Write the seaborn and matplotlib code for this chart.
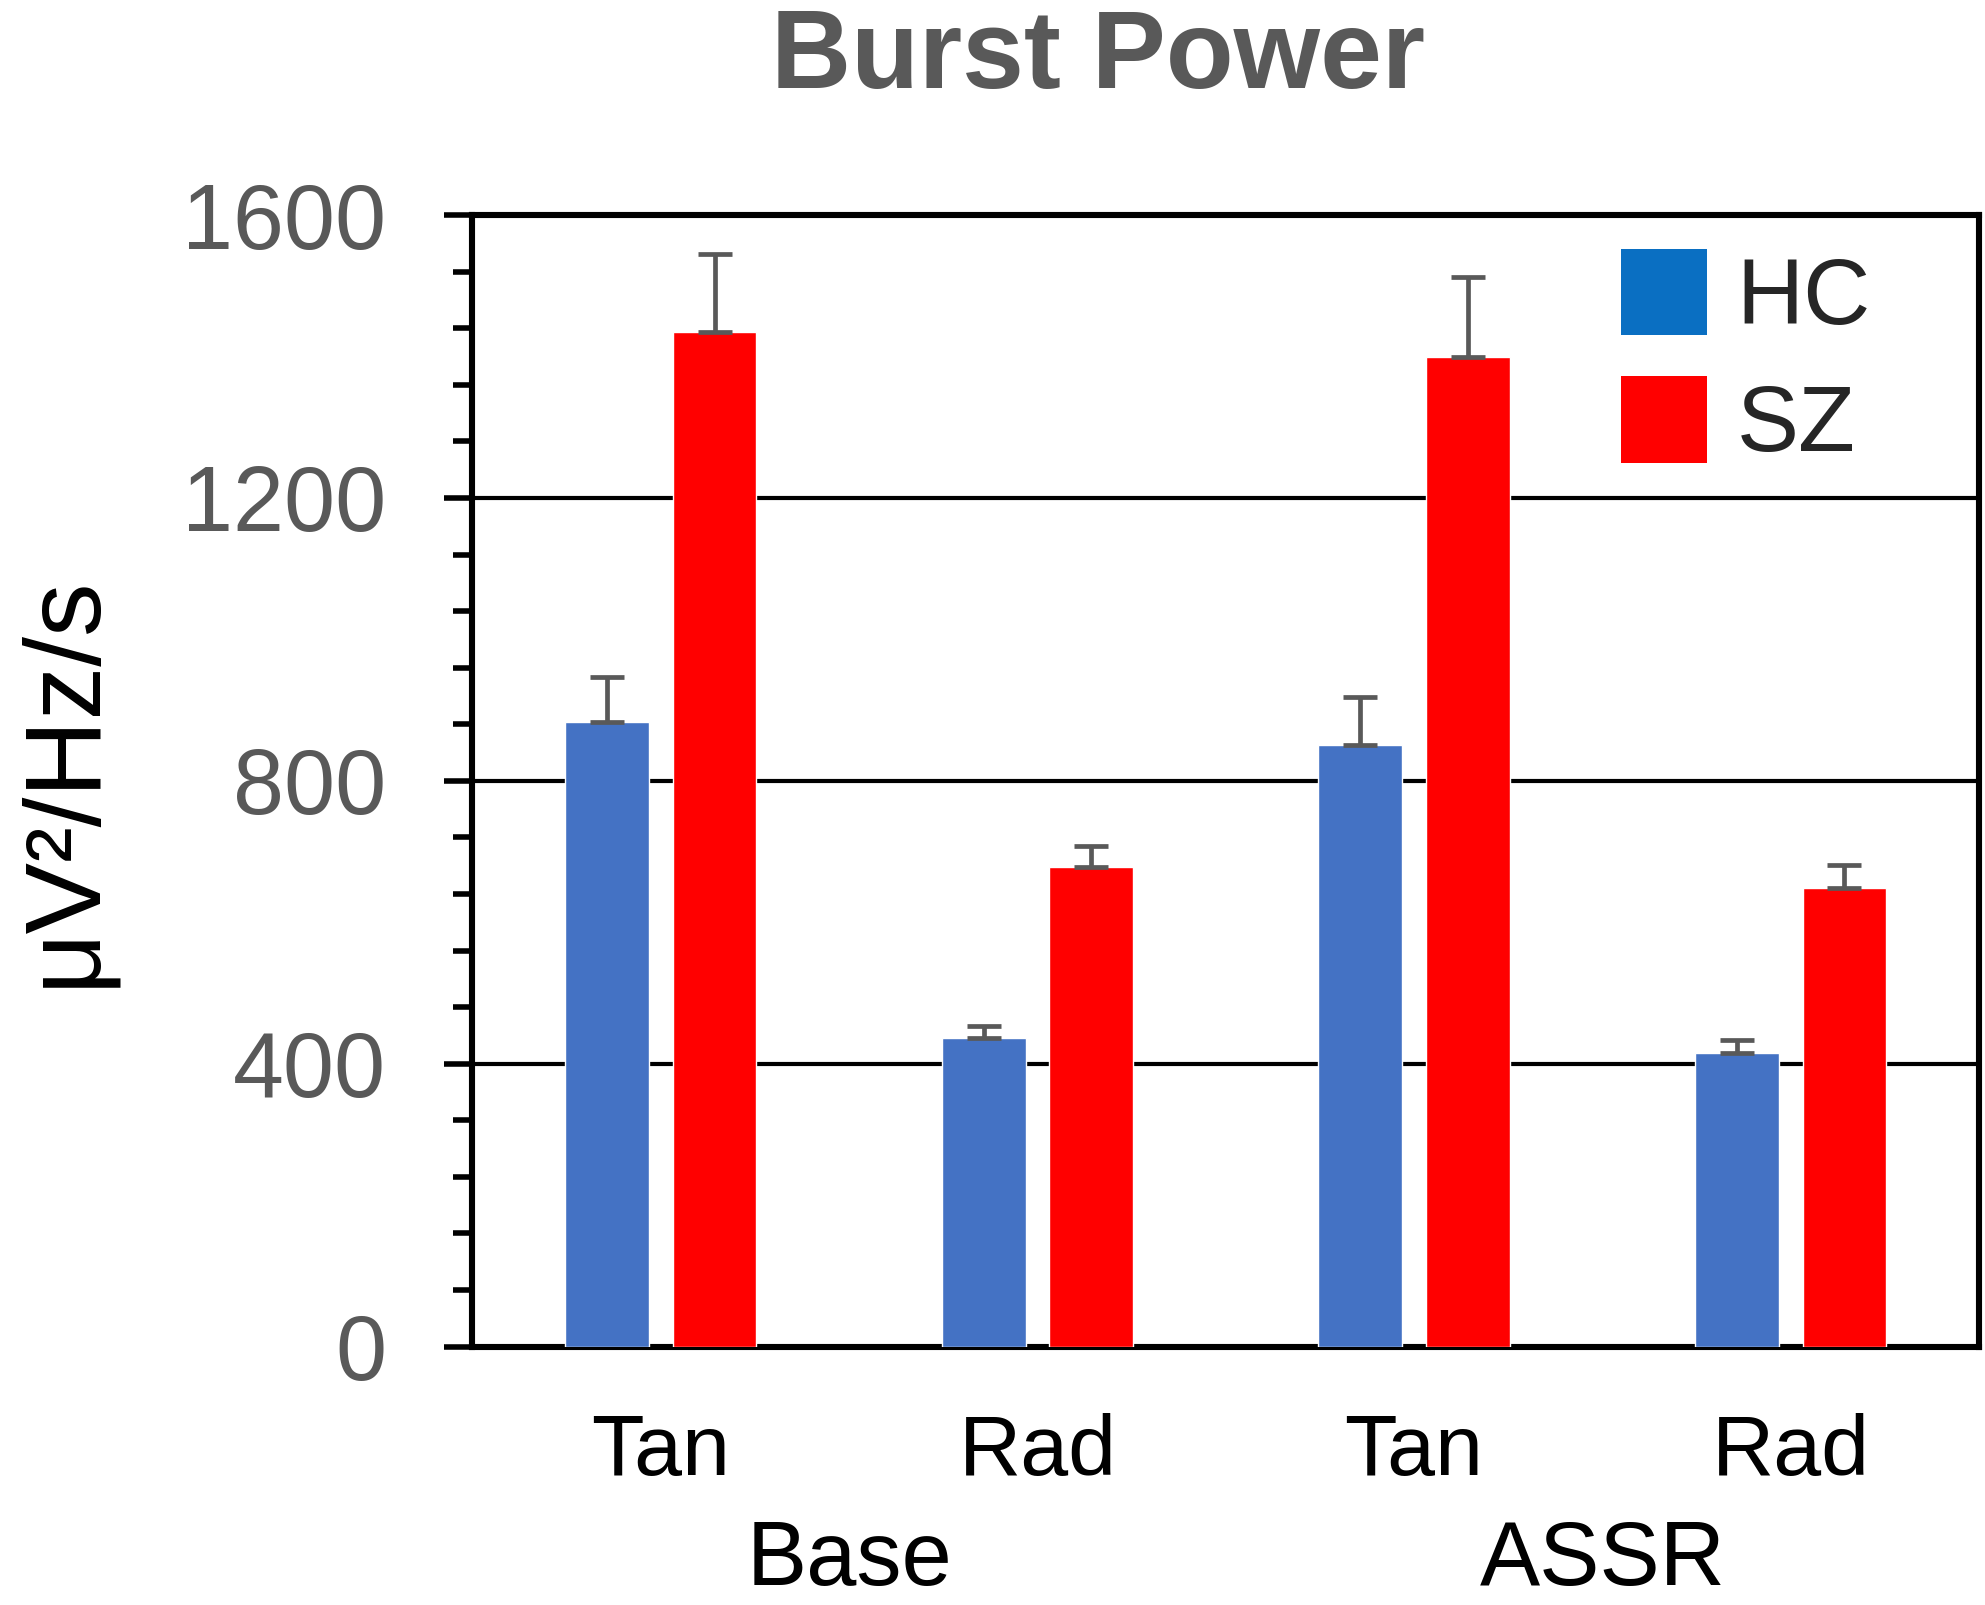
import numpy as np
import pandas as pd
import matplotlib
matplotlib.use("Agg")
import matplotlib.pyplot as plt
from matplotlib.patches import Patch
from matplotlib.ticker import MultipleLocator
import seaborn as sns

# ---- data ----
conditions = ["Base", "Base", "ASSR", "ASSR"]
orientations = ["Tan", "Rad", "Tan", "Rad"]
groups = ["HC", "SZ"]
hc_values = [883, 436, 851, 415]
sz_values = [1435, 678, 1400, 649]
hc_err = [64, 18, 68, 19]
sz_err = [110, 30, 112, 32]
group_labels = ["Base", "ASSR"]
y_ticks = [0, 400, 800, 1200, 1600]

bar_colors = {"HC": "#4472C4", "SZ": "#FF0000"}
legend_colors = {"HC": "#0A6FC2", "SZ": "#FF0000"}
GRAY = "#595959"

cats = [f"{c}-{o}" for c, o in zip(conditions, orientations)]
df = pd.DataFrame({
    "cat": cats * 2,
    "group": ["HC"] * 4 + ["SZ"] * 4,
    "value": hc_values + sz_values,
})
errs = {"HC": hc_err, "SZ": sz_err}

sns.set_style("white")
plt.rcParams["font.family"] = ["Liberation Sans", "DejaVu Sans"]

fig = plt.figure(figsize=(19.85, 16.05), dpi=100)
ax = fig.add_axes([0.238, 0.161, 0.759, 0.705])

sns.barplot(data=df, x="cat", y="value", hue="group", order=cats,
            hue_order=groups, palette=bar_colors, width=0.571, gap=0.22,
            errorbar=None, saturation=1, legend=False, ax=ax, zorder=3)

for cont, g in zip(ax.containers, groups):
    xs = [p.get_x() + p.get_width() / 2 for p in cont.patches]
    hs = [p.get_height() for p in cont.patches]
    e = errs[g]
    ax.errorbar(xs, hs, yerr=[np.zeros(len(e)), e], fmt="none",
                ecolor=GRAY, elinewidth=3.4, capsize=12, capthick=3.4,
                zorder=4)

ax.set_xlim(-0.5, 3.5)
ax.set_ylim(0, 1600)
ax.set_yticks(y_ticks)
ax.yaxis.set_minor_locator(MultipleLocator(80))
ax.set_yticklabels([str(t) for t in y_ticks])
ax.set_xticks(range(4))
ax.set_xticklabels(orientations)

ax.grid(axis="y", which="major", color="black", linewidth=3.0, zorder=1)
ax.grid(axis="x", visible=False)
ax.set_axisbelow(True)

for s in ["left", "top", "right", "bottom"]:
    ax.spines[s].set_visible(True)
    ax.spines[s].set_color("black")
    ax.spines[s].set_linewidth(4.4)

ax.tick_params(axis="y", which="major", direction="out", length=20,
               width=4.0, color="black", labelsize=66, labelcolor=GRAY,
               pad=42, left=True)
ax.tick_params(axis="y", which="minor", direction="out", length=14,
               width=4.0, color="black", left=True)
ax.tick_params(axis="x", which="both", length=0, labelsize=62,
               labelcolor="black", pad=48, bottom=False)

ax.set_xlabel("")
ax.set_ylabel("μV²/Hz/s", fontsize=77, color="black", labelpad=48)

# group labels
trans = ax.get_xaxis_transform()
for i, gl in enumerate(group_labels):
    ax.text(2 * i + 0.5, -0.19, gl, transform=trans, ha="center",
            va="center", fontsize=65, color="black")

fig.text(0.553, 0.963, "Burst Power", ha="center", va="center",
         fontsize=80, fontweight="bold", color=GRAY)

handles = [Patch(facecolor=legend_colors[g], edgecolor="none", label=g)
           for g in groups]
ax.legend(handles=handles, loc="upper left", bbox_to_anchor=(0.7626, 0.97),
          frameon=False, fontsize=67, handlelength=0.92, handleheight=1.05,
          handletextpad=0.32, labelspacing=0.36, borderpad=0,
          borderaxespad=0)

fig.savefig("out.png", dpi=100, facecolor="white")
